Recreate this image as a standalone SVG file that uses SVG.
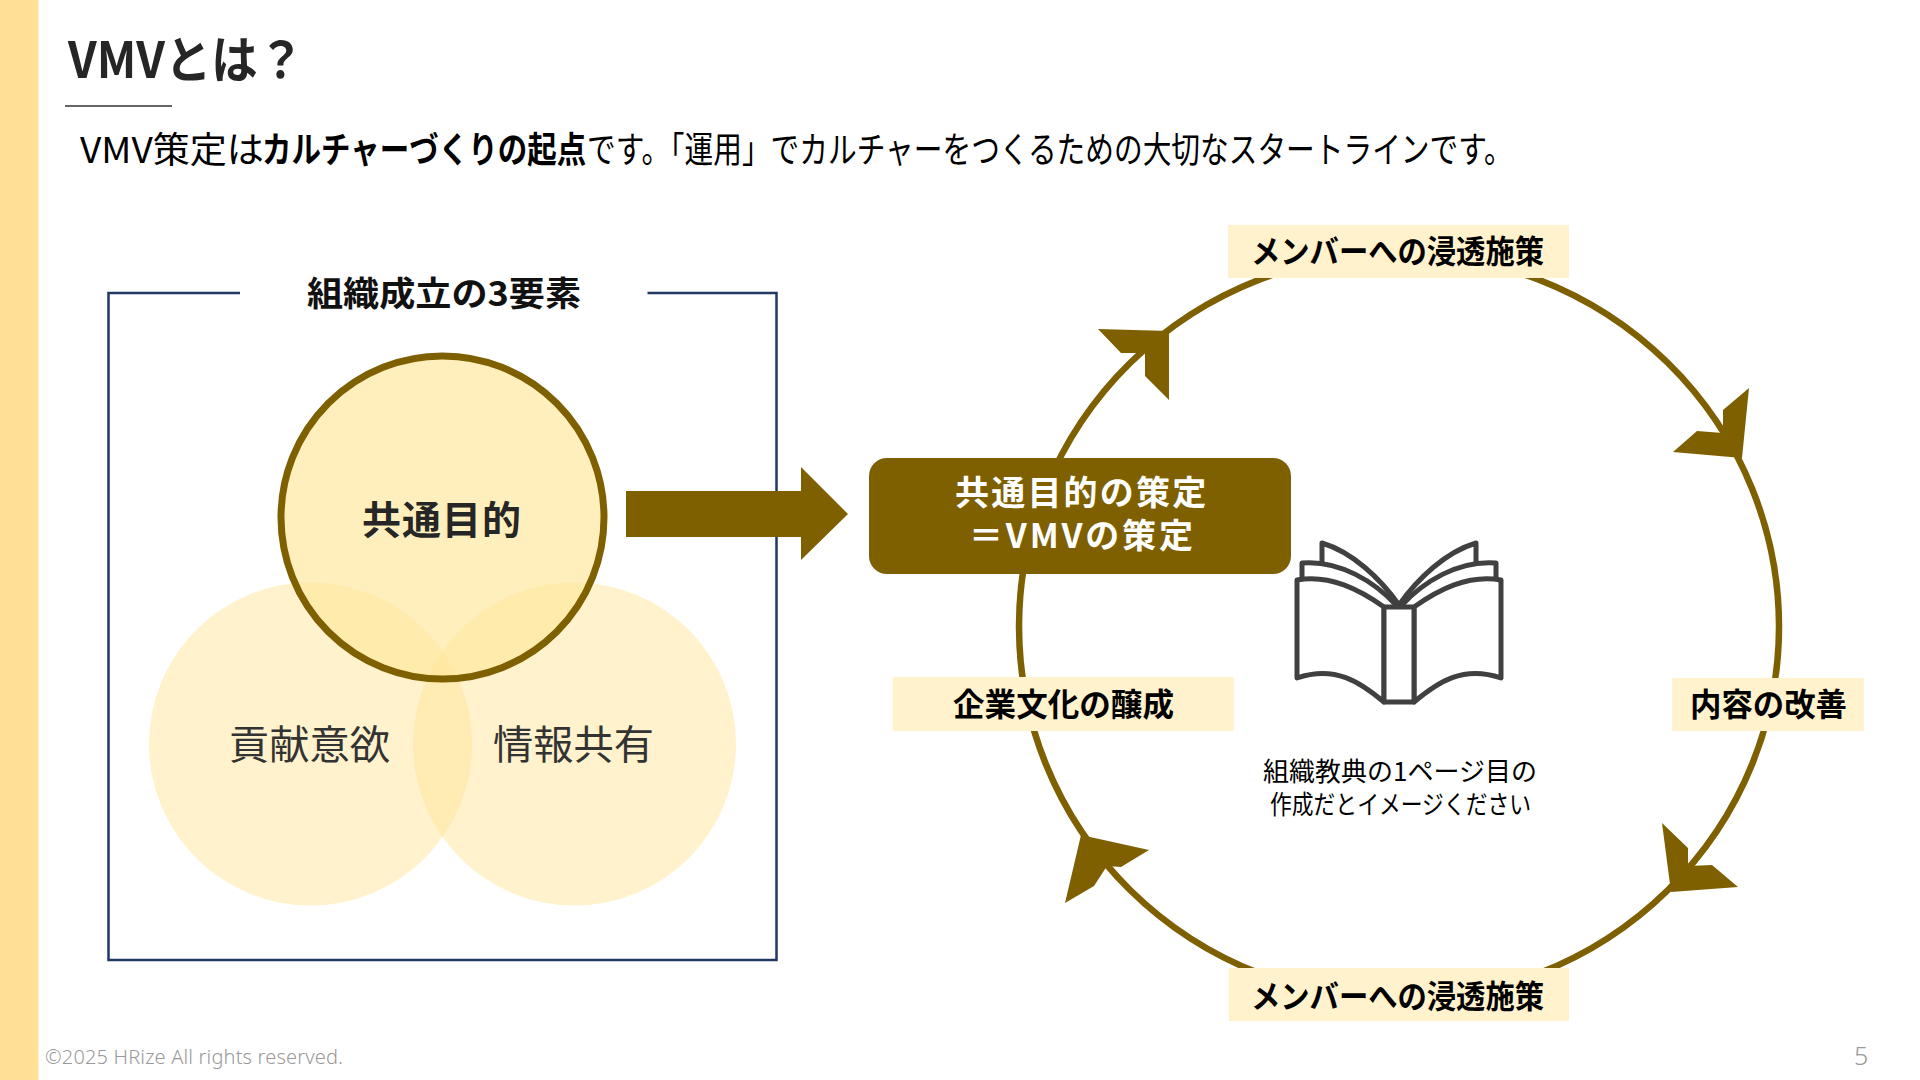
<svg xmlns="http://www.w3.org/2000/svg" width="1920" height="1080" viewBox="0 0 1920 1080">
<style>
text{font-family:"Noto Sans CJK JP","Noto Sans",sans-serif}
.b{font-weight:700}
.lab{font-size:32px;font-weight:700;fill:#000}
.tag{fill:#FFF2CC}
.br{fill:#7F6000}
.foot{font-family:"Noto Sans",sans-serif;font-weight:300}
.page{fill:#fff;stroke:#404040;stroke-width:5;stroke-linejoin:round;stroke-linecap:round}
</style>
<defs>
<g id="halfbook">
<path class="page" d="M1322,565V543C1352,552 1380,578 1399,605"/>
<path class="page" d="M1302,582V563C1340,560 1375,582 1397,606"/>
<path class="page" d="M1297,580C1330,574 1360,590 1384,607V702C1360,682 1335,665 1297,678Z"/>
</g>
</defs>
<rect width="1920" height="1080" fill="#fff"/>
<rect id="sidebar" width="38.5" height="1080" fill="#FFE094"/>
<g id="title">
<text x="68" y="78" class="b" font-size="50" fill="#262626" textLength="236" lengthAdjust="spacingAndGlyphs">VMVとは？</text>
<line x1="65" y1="106" x2="172" y2="106" stroke="#333" stroke-width="1.5"/>
</g>
<g id="subtitle" font-size="36" fill="#000">
<text transform="translate(80,163) scale(1.03,1)">VMV策定は</text>
<text transform="translate(262,163) scale(.82,1)" class="b">カルチャーづくりの起点</text>
<text transform="translate(587,163) scale(.797,1)">です。「運用」でカルチャーをつくるための大切なスタートラインです。</text>
</g>
<g id="frame">
<path d="M240,293H108.500V960H776.500V293H647.500" fill="none" stroke="#203864" stroke-width="2.500"/>
<text x="307" y="306" class="b" font-size="34" fill="#111" textLength="274" lengthAdjust="spacingAndGlyphs">組織成立の3要素</text>
</g>
<g id="contribution">
<circle cx="310.500" cy="744" r="161.500" fill="#FFE699" fill-opacity=".5"/>
<text x="229" y="759" font-size="40" fill="#333" textLength="161" lengthAdjust="spacingAndGlyphs">貢献意欲</text>
</g>
<g id="information">
<circle cx="574.500" cy="744" r="161.500" fill="#FFE699" fill-opacity=".5"/>
<text x="493" y="759" font-size="40" fill="#333" textLength="161" lengthAdjust="spacingAndGlyphs">情報共有</text>
</g>
<g id="purpose">
<circle cx="442.500" cy="517.500" r="161.500" fill="#FFE699" fill-opacity=".65" stroke="#7F6000" stroke-width="7"/>
<text x="362" y="534" class="b" font-size="39" fill="#262626" textLength="159" lengthAdjust="spacing">共通目的</text>
</g>
<g id="connectors">
<path class="br" d="M626,491H801V467L848,514L801,560V537H626Z"/>
<ellipse cx="1399" cy="626.500" rx="380" ry="373" fill="none" stroke="#7F6000" stroke-width="6.500"/>
<polygon class="br" points="1098,329 1169,331 1169,400 1145,376 1145,353 1121,353"/>
<polygon class="br" points="1749,388 1742,458 1673,452 1697,431 1723,433 1723,410"/>
<polygon class="br" points="1662,823 1688,848 1688,866 1712,865 1738,887 1671,892"/>
<polygon class="br" points="1081,835 1149,850 1121,867 1107,866 1094,886 1065,903"/>
</g>
<g id="vmv">
<rect x="869" y="458" width="422" height="116" rx="18" class="br"/>
<text class="b" font-size="34" fill="#fff"><tspan x="955" y="505" letter-spacing="2.200">共通目的の策定</tspan><tspan x="969" y="548" letter-spacing="2.800">＝VMVの策定</tspan></text>
</g>
<g id="top-label">
<rect x="1228" y="225" width="341" height="53" class="tag"/>
<text x="1251" y="263" class="lab" textLength="293" lengthAdjust="spacingAndGlyphs">メンバーへの浸透施策</text>
</g>
<g id="right-label">
<rect x="1672" y="678" width="192" height="53" class="tag"/>
<text x="1690" y="716" class="lab" textLength="157" lengthAdjust="spacingAndGlyphs">内容の改善</text>
</g>
<g id="bottom-label">
<rect x="1229" y="968" width="340" height="53" class="tag"/>
<text x="1251" y="1008" class="lab" textLength="293" lengthAdjust="spacingAndGlyphs">メンバーへの浸透施策</text>
</g>
<g id="left-label">
<rect x="893" y="677" width="341" height="54" class="tag"/>
<text x="953" y="716" class="lab" textLength="221" lengthAdjust="spacingAndGlyphs">企業文化の醸成</text>
</g>
<g id="book">
<use href="#halfbook"/>
<use href="#halfbook" transform="translate(2798,0) scale(-1,1)"/>
<rect class="page" x="1384" y="607" width="30" height="95"/>
</g>
<g id="caption" font-size="26" fill="#000">
<text x="1263" y="781" textLength="274" lengthAdjust="spacingAndGlyphs">組織教典の1ページ目の</text>
<text x="1270" y="814" textLength="261" lengthAdjust="spacingAndGlyphs">作成だとイメージください</text>
</g>
<g id="footer" fill="#999">
<text class="foot" x="45" y="1064" font-size="20" textLength="298" lengthAdjust="spacing">©2025 HRize All rights reserved.</text>
<text class="foot" x="1854" y="1065" font-size="25">5</text>
</g>
</svg>
